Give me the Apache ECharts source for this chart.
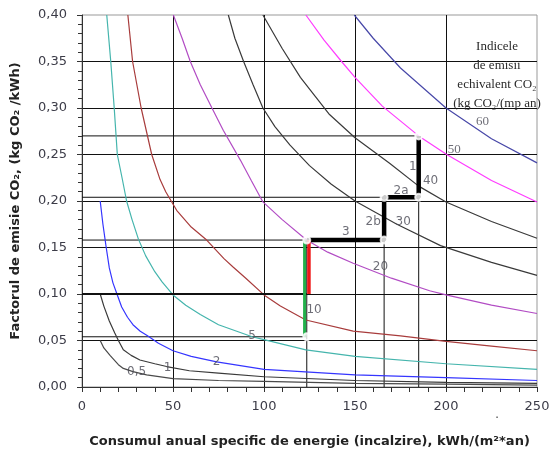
<!DOCTYPE html>
<html>
<head>
<meta charset="utf-8">
<script src="https://cdn.jsdelivr.net/npm/echarts@6.0.0/dist/echarts.min.js"></script>
<style>
  html, body { margin: 0; padding: 0; background: #fff; }
  #chart { width: 551px; height: 452px; }
</style>
</head>
<body>
<div id="chart"></div>
<script>
// emission index curves, [consum kWh/(m2 an), factor kg CO2/kWh]
const curve05 = [[10,0.050],[12,0.042],[15.4,0.034],[20,0.024],[22.7,0.020],[28,0.0165],[35.5,0.013],[50,0.009],[75,0.007],[100,0.006],[150,0.004],[200,0.003],[250,0.002]];
const curve1 = [[10,0.100],[12,0.087],[15,0.071],[18,0.058],[20,0.050],[22.7,0.040],[27,0.034],[31.8,0.029],[40,0.025],[46.5,0.022],[59,0.0175],[75,0.015],[100,0.011],[150,0.007],[200,0.005],[250,0.004]];
const curve2 = [[10,0.200],[11.5,0.175],[13.3,0.150],[15,0.128],[17,0.112],[19.4,0.099],[21.8,0.086],[25,0.075],[28,0.067],[32,0.060],[36,0.055],[42,0.047],[50,0.039],[60,0.033],[74,0.027],[100,0.019],[125,0.016],[150,0.013],[200,0.010],[250,0.007]];
const curve5 = [[13.6,0.400],[15.8,0.350],[17.7,0.300],[19.4,0.250],[22,0.225],[24.5,0.200],[27.5,0.180],[31,0.159],[35,0.141],[40,0.124],[44,0.113],[50,0.099],[57,0.088],[65,0.078],[75,0.067],[93.5,0.054],[100,0.051],[123,0.040],[150,0.033],[200,0.025],[250,0.019]];
const curve10 = [[25.2,0.400],[27.8,0.350],[32.5,0.300],[38.3,0.250],[42.9,0.223],[46,0.210],[52,0.190],[60,0.172],[68.5,0.158],[78,0.138],[83,0.129],[90,0.117],[100,0.099],[109,0.087],[123,0.072],[149,0.060],[175,0.055],[200,0.049],[225,0.044],[250,0.039]];
const curve20 = [[50.2,0.400],[55,0.375],[59.5,0.350],[65,0.325],[71.4,0.300],[77.6,0.276],[87,0.244],[93,0.222],[99.4,0.199],[110,0.180],[123.4,0.158],[135,0.145],[149,0.133],[170,0.117],[191,0.1035],[200,0.099],[225,0.088],[250,0.079]];
const curve30 = [[80.4,0.400],[84,0.375],[88.8,0.350],[94,0.325],[99.4,0.300],[106,0.280],[114.3,0.260],[125,0.238],[137,0.218],[150,0.200],[173,0.175],[197,0.152],[225,0.134],[250,0.120]];
const curve40 = [[99.4,0.400],[110,0.364],[120,0.333],[136,0.293],[150,0.268],[169,0.2405],[185,0.216],[200,0.199],[225,0.178],[250,0.160]];
const curve50 = [[123,0.400],[133,0.373],[142.6,0.350],[150,0.333],[165,0.302],[185,0.270],[200.4,0.250],[225,0.222],[250,0.199]];
const curve60 = [[149.6,0.400],[160,0.375],[175,0.343],[200,0.300],[225,0.267],[250,0.241]];

// worked example: consumption / factor levels of the steps
const stepConsum = [123.5, 166, 185];
const stepFactor = [0.054, 0.158, 0.204, 0.27];
const stepPath = [[123.5,0.158],[166,0.158],[166,0.204],[185,0.204],[185,0.27]];
const greenBar = [[122.3,0.054],[122.3,0.158]];
const redBar = [[124.7,0.100],[124.7,0.158]];
const baseLine = [[0,0.100],[123.5,0.100]];
const stepPoints = [[123.5,0.158],[166,0.158],[166,0.204],[185,0.204],[185,0.27],[123.5,0.054]];

const curveLabels = [[30,0.016,'0,5'],[47,0.021,'1'],[74,0.027,'2'],[93.5,0.055,'5'],[127.5,0.083,'10'],[164,0.129,'20'],[176.5,0.178,'30'],[191.5,0.222,'40']];
const serifLabels = [[204.5,0.255,'50'],[220,0.285,'60']];
const stepLabels = [[181.7,0.237,'1'],[175.3,0.211,'2a'],[160,0.178,'2b'],[145,0.167,'3']];

const xTicks = [0, 50, 100, 150, 200, 250];
const yTicks = [0, 0.05, 0.10, 0.15, 0.20, 0.25, 0.30, 0.35, 0.40];

function line(data, color, width, z) {
  return {
    type: 'line', data: data, symbol: 'none', z: z || 3, smooth: false,
    lineStyle: { color: color, width: width || 1.2 },
    silent: true, animation: false
  };
}

function labelSeries(data, font, size) {
  return {
    type: 'scatter', symbolSize: 0, z: 10, silent: true, animation: false,
    data: data.map(d => ({ value: [d[0], d[1]], name: d[2] })),
    label: { show: true, position: 'inside', formatter: p => p.name,
      color: '#4a4a55', fontFamily: font, fontSize: size }
  };
}

// guide lines of the worked example
const guides = [];
stepFactor.forEach((f, i) => {
  const xEnd = [123.5, 166, 185, 185][i];
  guides.push([[0, f], [xEnd, f]]);
});
stepConsum.forEach((c, i) => {
  guides.push([[c, 0], [c, stepFactor[i + 1]]]);
});

const series = [
  line(curve05, '#4a4a4a'),
  line(curve1, '#3a3a3a'),
  line(curve2, '#3535ff'),
  line(curve5, '#45b5ad'),
  line(curve10, '#a83c3c'),
  line(curve20, '#b24cc4'),
  line(curve30, '#3a3a3a'),
  line(curve40, '#3a3a3a'),
  line(curve50, '#ff3cff'),
  line(curve60, '#4848a8')
];
guides.forEach(g => series.push(line(g, '#111', 1, 2)));
series.push(line(baseLine, '#111', 2, 4));
series.push(line(stepPath, '#000', 4.5, 5));
series.push(line(greenBar, '#22b04a', 3, 5));
series.push(line(redBar, '#f01818', 3.5, 5));
series.push({
  type: 'scatter', data: stepPoints, symbol: 'emptyCircle', symbolSize: 7, z: 6,
  itemStyle: { color: '#fff', borderColor: '#666', borderWidth: 1.2 },
  silent: true, animation: false
});
series.push(labelSeries(curveLabels, 'DejaVu Sans', 12));
series.push(labelSeries(serifLabels, 'Liberation Serif', 13));
series.push(labelSeries(stepLabels, 'DejaVu Sans', 12));

const chart = echarts.init(document.getElementById('chart'));
chart.setOption({
  animation: false,
  backgroundColor: '#fff',
  grid: { left: 82, right: 14, top: 15, bottom: 65, outerBoundsMode: 'none',
    show: true, borderColor: '#999', borderWidth: 1 },
  xAxis: {
    type: 'value', min: xTicks[0], max: xTicks[xTicks.length - 1], interval: 50,
    name: 'Consumul anual specific de energie (incalzire), kWh/(m²*an)',
    nameLocation: 'middle', nameGap: 48,
    nameTextStyle: { fontFamily: 'DejaVu Sans', fontWeight: 'bold', fontSize: 13, color: '#222' },
    axisLine: { show: true, lineStyle: { color: '#333' } },
    axisTick: { show: true, length: 5, lineStyle: { color: '#333' } },
    minorTick: { show: true, splitNumber: 5, length: 5, lineStyle: { color: '#333' } },
    splitLine: { show: true, showMaxLine: false, lineStyle: { color: '#111', width: 1 } },
    axisLabel: { margin: 13, fontFamily: 'DejaVu Sans', fontSize: 13, color: '#3c3c48' }
  },
  yAxis: {
    type: 'value', min: yTicks[0], max: yTicks[yTicks.length - 1], interval: 0.05,
    name: 'Factorul de emisie CO₂, (kg CO₂ /kWh)',
    nameLocation: 'middle', nameGap: 60,
    nameTextStyle: { fontFamily: 'DejaVu Sans', fontWeight: 'bold', fontSize: 13, color: '#222' },
    axisLine: { show: true, lineStyle: { color: '#333' } },
    axisTick: { show: true, length: 5, lineStyle: { color: '#333' } },
    minorTick: { show: true, splitNumber: 5, length: 4, lineStyle: { color: '#333' } },
    splitLine: { show: true, showMaxLine: false, lineStyle: { color: '#111', width: 1 } },
    axisLabel: { margin: 15, fontFamily: 'DejaVu Sans', fontSize: 13, color: '#3c3c48',
      formatter: v => v.toFixed(2).replace('.', ',') }
  },
  graphic: [
    {
      type: 'text', x: 497, y: 37, z: 20, silent: true,
      style: {
        text: 'Indicele\nde emisii\nechivalent CO₂\n(kg CO₂/(mp an)',
        align: 'center', verticalAlign: 'top', lineHeight: 19,
        font: '13px "Liberation Serif"', fill: '#2a2a2a'
      }
    },
    { type: 'text', x: 497, y: 408, silent: true,
      style: { text: '.', align: 'center', font: '13px "DejaVu Sans"', fill: '#555' } }
  ],
  series: series
});
</script>
</body>
</html>
